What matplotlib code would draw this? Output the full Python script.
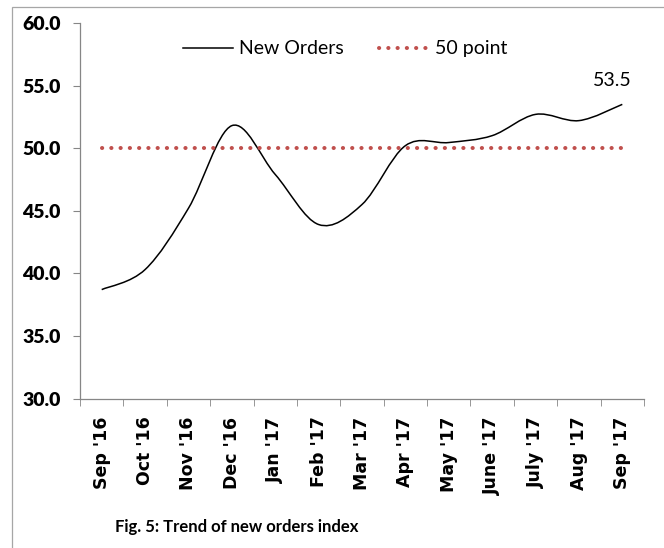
import matplotlib.pyplot as plt
from matplotlib.path import Path
from matplotlib.patches import PathPatch, Rectangle
from matplotlib.lines import Line2D

months = ["Sep '16", "Oct '16", "Nov '16", "Dec '16", "Jan '17", "Feb '17", "Mar '17",
          "Apr '17", "May '17", "June '17", "July '17", "Aug '17", "Sep '17"]
new_orders = [38.7, 40.3, 45.2, 51.8, 47.9, 43.9, 45.5, 50.2, 50.45, 51.0, 52.7, 52.2, 53.5]
fifty_point = [50.0] * len(months)
y_ticks = [30.0, 35.0, 40.0, 45.0, 50.0, 55.0, 60.0]

plt.rcParams['font.family'] = ['Lato', 'DejaVu Sans']

fig = plt.figure(figsize=(6.64, 5.48), dpi=100)
ax = fig.add_axes([80 / 664, 1 - 398.5 / 548, 564 / 664, 375.5 / 548])

# gray frame round the chart (left and top visible)
fig.patches.append(Rectangle((12 / 664, -0.05), 1.2, 1 - 7 / 548 + 0.05,
                             transform=fig.transFigure, fill=False,
                             edgecolor='#a6a6a6', linewidth=0.9))

x = list(range(len(months)))

# smoothed line like Excel: cubic bezier segments through the points
verts = [(x[0], new_orders[0])]
codes = [Path.MOVETO]
n = len(x)
for i in range(n - 1):
    p0 = (x[i - 1], new_orders[i - 1]) if i > 0 else (x[i], new_orders[i])
    p1 = (x[i], new_orders[i])
    p2 = (x[i + 1], new_orders[i + 1])
    p3 = (x[i + 2], new_orders[i + 2]) if i + 2 < n else p2
    c1 = (p1[0] + (p2[0] - p0[0]) / 6, p1[1] + (p2[1] - p0[1]) / 6)
    c2 = (p2[0] - (p3[0] - p1[0]) / 6, p2[1] - (p3[1] - p1[1]) / 6)
    verts += [c1, c2, p2]
    codes += [Path.CURVE4] * 3
ax.add_patch(PathPatch(Path(verts, codes), facecolor='none', edgecolor='black', linewidth=1.1))

ax.plot(x, fifty_point, color='#C0504D', linewidth=2.9,
        linestyle=(0, (0.05, 2.25)), dash_capstyle='round')

ax.annotate(f"{new_orders[-1]:.1f}", (x[-1], new_orders[-1]), xytext=(-7, 17),
            textcoords='offset points', ha='center', va='center', fontsize=14)

ax.set_xlim(-0.5, n - 0.5)
ax.set_ylim(30, 60)
ax.set_yticks(y_ticks)
ax.set_yticklabels([f"{v:.1f}" for v in y_ticks], fontsize=14, fontweight='heavy')
ax.set_xticks(x)
ax.set_xticklabels(months, rotation=90, fontsize=12.5, fontweight='bold', family='DejaVu Sans')
ax.set_xticks([i - 0.5 for i in range(n + 1)], minor=True)
ax.tick_params(axis='x', which='major', length=0, pad=13)
ax.tick_params(axis='x', which='minor', length=5, color='#868686')
ax.tick_params(axis='y', length=5, color='#868686', pad=9)

for side in ['top', 'right']:
    ax.spines[side].set_visible(False)
for side in ['left', 'bottom']:
    ax.spines[side].set_color('#868686')
    ax.spines[side].set_linewidth(0.9)

handles = [Line2D([], [], color='black', linewidth=1.1),
           Line2D([], [], color='#C0504D', linewidth=2.9, linestyle=(0, (0.05, 2.25)),
                  dash_capstyle='round')]
ax.legend(handles, ['New Orders', '50 point'], loc='upper center', bbox_to_anchor=(0.47, 1.0),
          ncol=2, frameon=False, fontsize=14, handlelength=2.6, columnspacing=1.8,
          handletextpad=0.3)

fig.text(237 / 664, 1 - 527 / 548, 'Fig. 5: Trend of new orders index',
         ha='center', va='center', fontsize=12, fontweight='bold')

plt.savefig('out.png', dpi=100)
